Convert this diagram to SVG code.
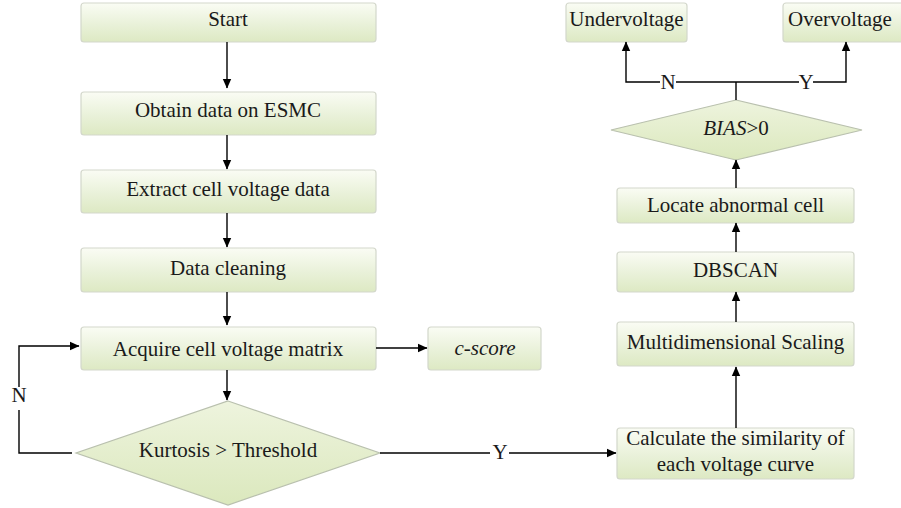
<svg xmlns="http://www.w3.org/2000/svg" width="901" height="508" viewBox="0 0 901 508">
<defs>
<linearGradient id="g" x1="0" y1="0" x2="0" y2="1">
<stop offset="0" stop-color="#fafcf4"/>
<stop offset="0.55" stop-color="#e9f1d9"/>
<stop offset="1" stop-color="#dde9c3"/>
</linearGradient>
<linearGradient id="gd" x1="0" y1="0" x2="0" y2="1">
<stop offset="0" stop-color="#eef4de"/>
<stop offset="1" stop-color="#dbe8bd"/>
</linearGradient>
<marker id="a" markerWidth="10" markerHeight="10" refX="9" refY="5" orient="auto" markerUnits="userSpaceOnUse">
<path d="M0,0.8 L9.5,5 L0,9.2 Z" fill="#000"/>
</marker>
</defs>
<style>
.b{fill:url(#g);stroke:#d3d7cb;stroke-width:1.2}
.d{fill:url(#gd);stroke:#b9c0ae;stroke-width:1.2}
.t{font-family:'Liberation Serif','DejaVu Serif',serif;font-size:21px;fill:#1a1a1a;text-anchor:middle}
.l{fill:none;stroke:#000;stroke-width:1.4}
.i{font-style:italic}
</style>
<rect width="901" height="508" fill="#fff"/>
<g id="n-start"><rect class="b" x="81" y="3" width="295" height="39" rx="3"/><text class="t" x="228" y="26">Start</text></g>
<g id="n-obtain"><rect class="b" x="81" y="92" width="295" height="43" rx="3"/><text class="t" x="228" y="117">Obtain data on ESMC</text></g>
<g id="n-extract"><rect class="b" x="81" y="170" width="295" height="43" rx="3"/><text class="t" x="228" y="196">Extract cell voltage data</text></g>
<g id="n-clean"><rect class="b" x="81" y="248" width="295" height="44" rx="3"/><text class="t" x="228" y="275">Data cleaning</text></g>
<g id="n-acquire"><rect class="b" x="81" y="327" width="295" height="43" rx="3"/><text class="t" x="228" y="356">Acquire cell voltage matrix</text></g>
<g id="n-cscore"><rect class="b" x="428" y="327" width="113" height="43" rx="3"/><text class="t i" x="485" y="355">c-score</text></g>
<g id="n-kurt"><polygon class="d" points="228,401 380,453 228,505 76,453"/><text class="t" x="228" y="457">Kurtosis &gt; Threshold</text></g>
<g id="n-calc"><rect class="b" x="617" y="428" width="237" height="51" rx="3"/><text class="t" x="735.5" y="445">Calculate the similarity of</text><text class="t" x="735.5" y="471">each voltage curve</text></g>
<g id="n-mds"><rect class="b" x="617" y="322" width="237" height="44" rx="3"/><text class="t" x="735.5" y="349">Multidimensional Scaling</text></g>
<g id="n-dbscan"><rect class="b" x="617" y="252" width="237" height="40" rx="3"/><text class="t" x="735.5" y="277">DBSCAN</text></g>
<g id="n-locate"><rect class="b" x="617" y="188" width="237" height="35" rx="3"/><text class="t" x="735.5" y="212">Locate abnormal cell</text></g>
<g id="n-bias"><polygon class="d" points="736,100 862,130 736,160 611,130"/><text class="t" x="736" y="135"><tspan class="i">BIAS</tspan>&gt;0</text></g>
<g id="n-under"><rect class="b" x="566" y="3" width="121" height="39" rx="3"/><text class="t" x="626.5" y="26">Undervoltage</text></g>
<g id="n-over"><rect class="b" x="783" y="3" width="121" height="39" rx="3"/><text class="t" x="840" y="26">Overvoltage</text></g>
<g id="connectors">
<line class="l" x1="227" y1="42" x2="227" y2="88" marker-end="url(#a)"/>
<line class="l" x1="227" y1="135" x2="227" y2="169" marker-end="url(#a)"/>
<line class="l" x1="227" y1="213" x2="227" y2="247" marker-end="url(#a)"/>
<line class="l" x1="227" y1="292" x2="227" y2="325" marker-end="url(#a)"/>
<line class="l" x1="227" y1="370" x2="227" y2="400" marker-end="url(#a)"/>
<line class="l" x1="376" y1="348" x2="427" y2="348" marker-end="url(#a)"/>
<polyline class="l" points="72,453 19,453 19,410"/>
<polyline class="l" points="19,387 19,346 79,346" marker-end="url(#a)"/>
<text class="t" x="19" y="402">N</text>
<line class="l" x1="380" y1="453" x2="490" y2="453"/>
<line class="l" x1="509" y1="453" x2="616" y2="453" marker-end="url(#a)"/>
<text class="t" x="500" y="459">Y</text>
<line class="l" x1="736" y1="428" x2="736" y2="367" marker-end="url(#a)"/>
<line class="l" x1="736" y1="322" x2="736" y2="292" marker-end="url(#a)"/>
<line class="l" x1="736" y1="252" x2="736" y2="223" marker-end="url(#a)"/>
<line class="l" x1="736" y1="188" x2="736" y2="160" marker-end="url(#a)"/>
<line class="l" x1="736" y1="100" x2="736" y2="82"/>
<polyline class="l" points="660,82 626,82 626,42" marker-end="url(#a)"/>
<line class="l" x1="676" y1="82" x2="799" y2="82"/>
<polyline class="l" points="813,82 846,82 846,42" marker-end="url(#a)"/>
<text class="t" x="668" y="89">N</text>
<text class="t" x="806" y="89">Y</text>
</g>
</svg>
